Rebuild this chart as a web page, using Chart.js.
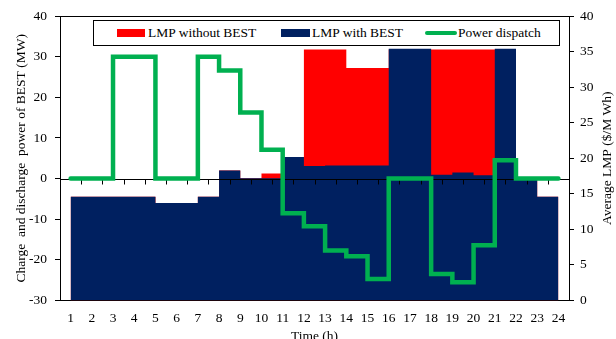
<!DOCTYPE html>
<html>
<head>
<meta charset="utf-8">
<script src="https://cdn.jsdelivr.net/npm/chart.js@4.4.0/dist/chart.umd.min.js"></script>
<style>
  html, body { margin: 0; padding: 0; background: #fff; }
  #wrap { position: relative; width: 616px; height: 339px; overflow: hidden; }
  #chart { position: absolute; left: 0; top: 0; }
  .lg { position: absolute; font-family: "Liberation Serif", "Times New Roman", serif;
        font-size: 13.5px; line-height: 16px; color: #000; white-space: nowrap; }
  .box { position: absolute; left: 93px; top: 20px; width: 467px; height: 26px;
         box-sizing: border-box; border: 1px solid #000; background: #fff; }
  .sw { position: absolute; }
</style>
</head>
<body>
<div id="wrap">
  <canvas id="chart" width="616" height="339"></canvas>
  <div class="box"></div>
  <div class="sw" style="left:117px;top:29px;width:28px;height:8px;background:#ff0000;"></div>
  <div class="lg" style="left:148px;top:25px;">LMP without BEST</div>
  <div class="sw" style="left:281px;top:29px;width:29px;height:8px;background:#002060;"></div>
  <div class="lg" style="left:312px;top:25px;">LMP with BEST</div>
  <div class="sw" style="left:425px;top:31px;width:32px;height:4px;border-radius:2px;background:#00b050;"></div>
  <div class="lg" style="left:458px;top:25px;">Power dispatch</div>
</div>
<script>
// Hour of day (each value holds from its hour to the next)
const hours = [1, 2, 3, 4, 5, 6, 7, 8, 9, 10, 11, 12, 13, 14, 15, 16, 17, 18, 19, 20, 21, 22, 23, 24];
const hourLabels = hours.map(String);

// Average LMP ($/MWh)
const lmpWithoutBest = [14.6, 14.6, 14.6, 14.6, 13.7, 13.7, 14.6, 18.3, 17.2, 17.85, 20.2, 35.3,
                        35.3, 32.7, 32.7, 35.3, 35.3, 35.3, 35.3, 35.3, 35.3, 17.0, 14.6, 14.6];
const lmpWithBest    = [14.6, 14.6, 14.6, 14.6, 13.7, 13.7, 14.6, 18.3, 17.2, 17.2, 20.2, 18.9,
                        19.0, 19.0, 19.0, 35.4, 35.4, 17.7, 18.0, 17.6, 35.4, 17.0, 14.6, 14.6];

// Charge (-) / discharge (+) power of BEST (MW)
const powerDispatch  = [0, 0, 30, 30, 0, 0, 30, 26.6, 16.3, 7.1, -8.5, -11.7,
                        -17.7, -19.1, -24.7, 0, 0, -23.5, -25.5, -16.4, 4.5, 0, 0, 0];

const powerTicks = [-30, -20, -10, 0, 10, 20, 30, 40];
const lmpTicks = [0, 5, 10, 15, 20, 25, 30, 35, 40];

const FONT = 'Liberation Serif';
const toPoints = arr => hours.map((h, i) => ({ x: h, y: arr[i] }));

const axisDecor = {
  id: 'axisDecor',
  beforeDatasetDraw(chart, args) {
    if (args.index !== 2) return;
    const { ctx, chartArea: a, scales } = chart;
    const y0 = Math.round(scales.yPower.getPixelForValue(0)) + 0.5;
    ctx.save();
    ctx.strokeStyle = '#000';
    ctx.lineWidth = 1;
    ctx.beginPath();
    ctx.moveTo(a.left, y0);
    ctx.lineTo(a.right, y0);
    for (let k = 0; k <= hours.length; k++) {
      const x = Math.round(scales.x.getPixelForValue(k + 0.5)) + 0.5;
      ctx.moveTo(x, y0);
      ctx.lineTo(x, y0 + 5);
    }
    ctx.stroke();
    ctx.restore();
  },
  afterDraw(chart) {
    const { ctx, chartArea: a } = chart;
    ctx.save();
    ctx.strokeStyle = '#000';
    ctx.lineWidth = 1;
    ctx.beginPath();
    const yt = Math.round(a.top) + 0.5;
    ctx.moveTo(a.left, yt);
    ctx.lineTo(a.right, yt);
    ctx.stroke();
    // right-hand axis title, reading bottom to top
    ctx.translate(607.5, (a.top + a.bottom) / 2);
    ctx.rotate(-Math.PI / 2);
    ctx.font = '13.5px "' + FONT + '"';
    ctx.fillStyle = '#000';
    ctx.textAlign = 'center';
    ctx.textBaseline = 'middle';
    ctx.fillText('Average LMP ($/M Wh)', 0, 0);
    ctx.restore();
  }
};

new Chart(document.getElementById('chart'), {
  type: 'line',
  data: {
    datasets: [
      {
        label: 'LMP without BEST',
        data: toPoints(lmpWithoutBest),
        yAxisID: 'yLmp',
        stepped: true,
        fill: 'origin',
        backgroundColor: '#ff0000',
        borderColor: '#ff0000',
        borderWidth: 0,
        pointRadius: 0,
        order: 3
      },
      {
        label: 'LMP with BEST',
        data: toPoints(lmpWithBest),
        yAxisID: 'yLmp',
        stepped: true,
        fill: 'origin',
        backgroundColor: '#002060',
        borderColor: '#002060',
        borderWidth: 0,
        pointRadius: 0,
        order: 2
      },
      {
        label: 'Power dispatch',
        data: toPoints(powerDispatch),
        yAxisID: 'yPower',
        stepped: true,
        fill: false,
        borderColor: '#00b050',
        borderWidth: 4.5,
        borderCapStyle: 'round',
        borderJoinStyle: 'miter',
        pointRadius: 0,
        order: 1
      }
    ]
  },
  options: {
    responsive: false,
    animation: false,
    devicePixelRatio: 1,
    layout: { padding: { top: 15.5, left: 0, right: 0, bottom: 0 } },
    plugins: { legend: { display: false }, tooltip: { enabled: false } },
    scales: {
      x: {
        type: 'linear',
        min: 0.5,
        max: 24.5,
        afterBuildTicks: s => { s.ticks = hours.map(v => ({ value: v })); },
        afterFit: s => { s.height = 38.5; },
        grid: { drawOnChartArea: false, drawTicks: false },
        border: { display: true, color: '#000' },
        ticks: {
          autoSkip: false, maxRotation: 0, padding: 10, color: '#000',
          font: { family: FONT, size: 13.5 },
          callback: (v, i) => hourLabels[i]
        },
        title: {
          display: true, text: 'Time (h)', color: '#000',
          font: { family: FONT, size: 13.5 },
          padding: { top: 0, bottom: -6 }
        }
      },
      yPower: {
        position: 'left',
        min: -30,
        max: 40,
        afterBuildTicks: s => { s.ticks = powerTicks.map(v => ({ value: v })); },
        afterFit: s => { s.width = 60; },
        grid: { drawOnChartArea: false, drawTicks: true, tickLength: 5, color: '#000' },
        border: { display: true, color: '#000' },
        ticks: { padding: 8, color: '#000', font: { family: FONT, size: 13.5 } },
        title: {
          display: true, text: 'Charge  and discharge  power of BEST (MW)', color: '#000',
          font: { family: FONT, size: 13.5 },
          padding: { top: 13, bottom: 0 }
        }
      },
      yLmp: {
        position: 'right',
        min: 0,
        max: 40,
        afterBuildTicks: s => { s.ticks = lmpTicks.map(v => ({ value: v })); },
        afterFit: s => { s.width = 47; },
        grid: { drawOnChartArea: false, drawTicks: true, tickLength: 5, color: '#000' },
        border: { display: true, color: '#000' },
        ticks: { padding: 6, color: '#000', font: { family: FONT, size: 13.5 } }
      }
    }
  },
  plugins: [axisDecor]
});
</script>
</body>
</html>
